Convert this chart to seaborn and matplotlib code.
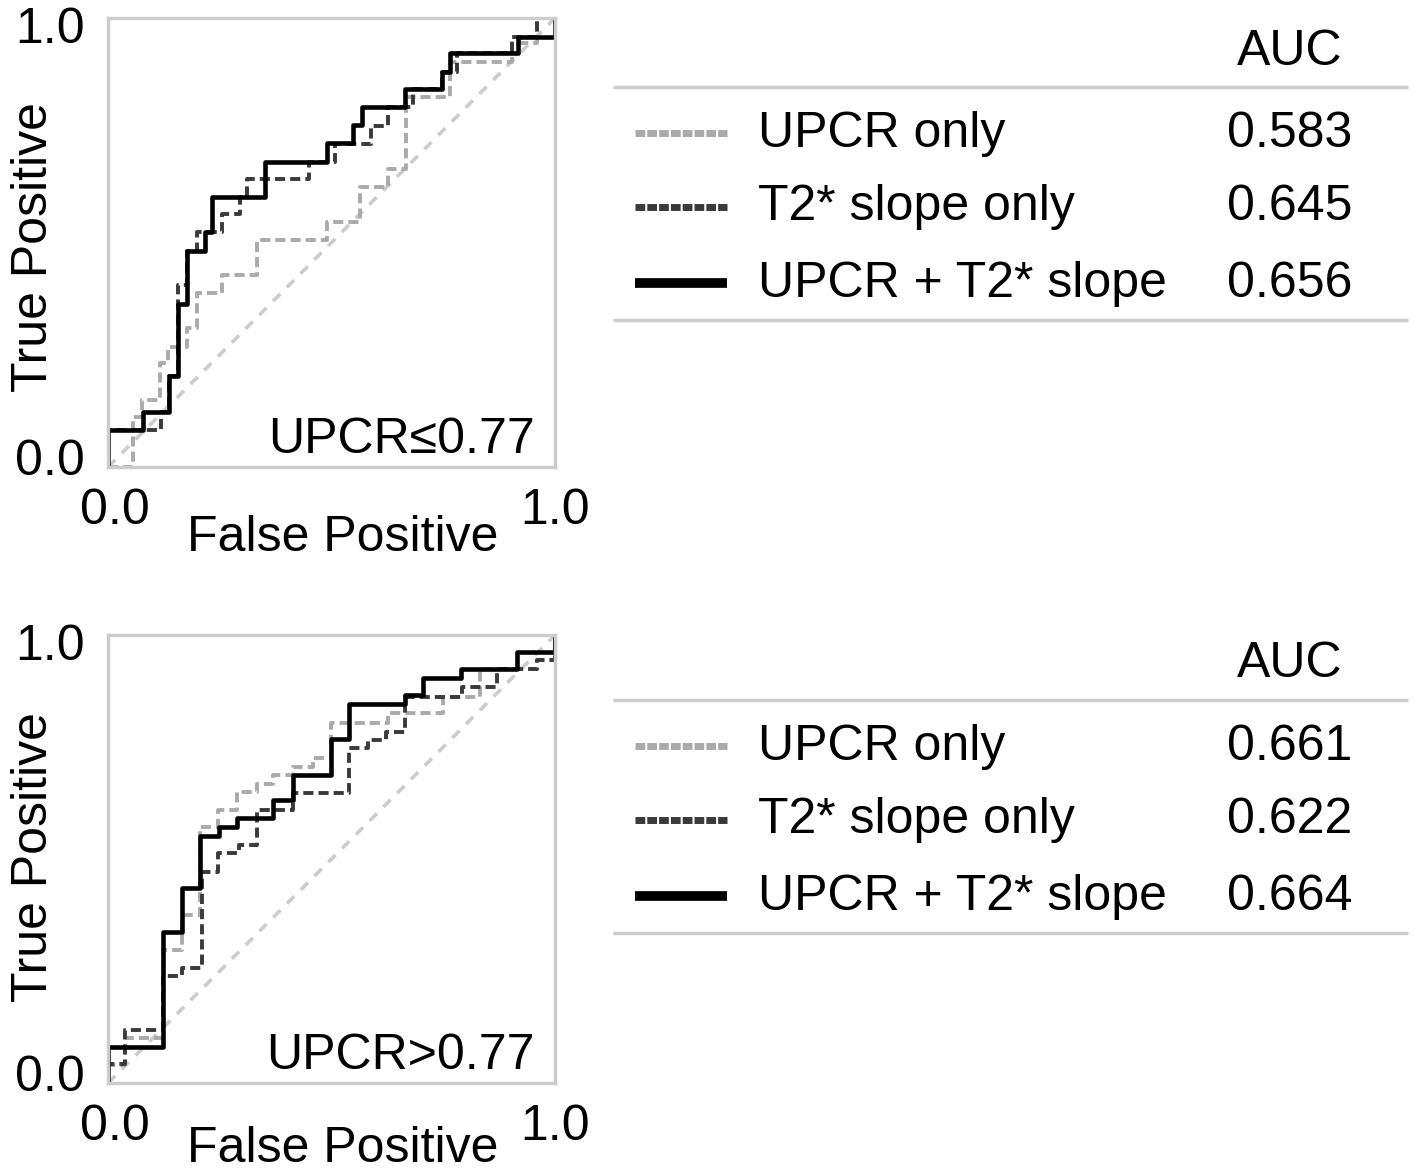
import numpy as np
import pandas as pd
import seaborn as sns
import matplotlib.pyplot as plt
from matplotlib.transforms import ScaledTranslation

sns.set_theme(style="white")
plt.rcParams['font.family'] = ['Liberation Sans', 'DejaVu Sans']
plt.rcParams['axes.edgecolor'] = '#cccccc'
plt.rcParams['axes.linewidth'] = 2.4
plt.rcParams['text.color'] = 'black'
plt.rcParams['axes.labelcolor'] = 'black'
plt.rcParams['xtick.color'] = 'black'
plt.rcParams['ytick.color'] = 'black'

# ROC corner points
top_upcr_fpr = [0, 0.057, 0.057, 0.075, 0.075, 0.116, 0.116, 0.135, 0.135, 0.176, 0.176, 0.198, 0.198,
                0.254, 0.254, 0.333, 0.333, 0.489, 0.489, 0.564, 0.564, 0.627, 0.627, 0.667, 0.667,
                0.764, 0.764, 0.903, 0.903, 0.959, 0.959, 1.0]
top_upcr_tpr = [0, 0, 0.112, 0.112, 0.149, 0.149, 0.231, 0.231, 0.268, 0.268, 0.309, 0.309, 0.387,
                0.387, 0.428, 0.428, 0.506, 0.506, 0.546, 0.546, 0.624, 0.624, 0.663, 0.663, 0.823,
                0.823, 0.903, 0.903, 0.944, 0.944, 1.0, 1.0]
top_t2_fpr = [0, 0, 0.118, 0.118, 0.137, 0.137, 0.157, 0.157, 0.176, 0.176, 0.198, 0.198, 0.254, 0.254,
              0.295, 0.295, 0.312, 0.312, 0.450, 0.450, 0.508, 0.508, 0.588, 0.588, 0.627, 0.627,
              0.683, 0.683, 0.747, 0.747, 0.780, 0.780, 0.903, 0.903, 0.960, 0.960, 1.0]
top_t2_tpr = [0, 0.082, 0.082, 0.122, 0.122, 0.203, 0.203, 0.405, 0.405, 0.481, 0.481, 0.523, 0.523,
              0.563, 0.563, 0.602, 0.602, 0.641, 0.641, 0.680, 0.680, 0.719, 0.719, 0.759, 0.759,
              0.802, 0.802, 0.842, 0.842, 0.880, 0.880, 0.922, 0.922, 0.958, 0.958, 1.0, 1.0]
top_both_fpr = [0, 0, 0.078, 0.078, 0.137, 0.137, 0.157, 0.157, 0.176, 0.176, 0.217, 0.217, 0.233, 0.233,
                0.351, 0.351, 0.490, 0.490, 0.548, 0.548, 0.568, 0.568, 0.664, 0.664, 0.747, 0.747,
                0.765, 0.765, 0.917, 0.917, 1.0, 1.0]
top_both_tpr = [0, 0.082, 0.082, 0.122, 0.122, 0.203, 0.203, 0.363, 0.363, 0.481, 0.481, 0.523, 0.523,
                0.601, 0.601, 0.679, 0.679, 0.721, 0.721, 0.762, 0.762, 0.802, 0.802, 0.842, 0.842,
                0.880, 0.880, 0.922, 0.922, 0.958, 0.958, 1.0]

bot_upcr_fpr = [0, 0, 0.038, 0.038, 0.124, 0.124, 0.165, 0.165, 0.206, 0.206, 0.247, 0.247, 0.288, 0.288,
                0.333, 0.333, 0.370, 0.370, 0.413, 0.413, 0.459, 0.459, 0.498, 0.498, 0.627, 0.627,
                0.750, 0.750, 0.832, 0.832, 0.959, 0.959, 1.0, 1.0]
bot_upcr_tpr = [0, 0.04, 0.04, 0.10, 0.10, 0.297, 0.297, 0.375, 0.375, 0.572, 0.572, 0.609, 0.609, 0.650,
                0.650, 0.667, 0.667, 0.688, 0.688, 0.706, 0.706, 0.726, 0.726, 0.803, 0.803, 0.825,
                0.825, 0.862, 0.862, 0.924, 0.924, 0.944, 0.944, 1.0]
bot_t2_fpr = [0, 0, 0.038, 0.038, 0.124, 0.124, 0.165, 0.165, 0.210, 0.210, 0.247, 0.247, 0.292, 0.292,
              0.333, 0.333, 0.413, 0.413, 0.540, 0.540, 0.582, 0.582, 0.623, 0.623, 0.664, 0.664,
              0.791, 0.791, 0.870, 0.870, 0.959, 0.959, 1.0, 1.0]
bot_t2_tpr = [0, 0.042, 0.042, 0.118, 0.118, 0.239, 0.239, 0.256, 0.256, 0.472, 0.472, 0.513, 0.513,
              0.531, 0.531, 0.609, 0.609, 0.647, 0.647, 0.747, 0.747, 0.766, 0.766, 0.784, 0.784,
              0.862, 0.862, 0.885, 0.885, 0.924, 0.924, 0.944, 0.944, 1.0]
bot_both_fpr = [0, 0, 0.124, 0.124, 0.165, 0.165, 0.206, 0.206, 0.249, 0.249, 0.289, 0.289, 0.370, 0.370,
                0.413, 0.413, 0.498, 0.498, 0.540, 0.540, 0.664, 0.664, 0.705, 0.705, 0.789, 0.789,
                0.914, 0.914, 1.0, 1.0]
bot_both_tpr = [0, 0.080, 0.080, 0.338, 0.338, 0.435, 0.435, 0.552, 0.552, 0.572, 0.572, 0.591, 0.591,
                0.632, 0.632, 0.688, 0.688, 0.768, 0.768, 0.845, 0.845, 0.865, 0.865, 0.905, 0.905,
                0.924, 0.924, 0.963, 0.963, 1.0]

models = ["UPCR only", "T2* slope only", "UPCR + T2* slope"]
top_auc = ["0.583", "0.645", "0.656"]
bot_auc = ["0.661", "0.622", "0.664"]
panel_labels = ["UPCR\u22640.77", "UPCR>0.77"]

colors = ['#aaaaaa', '#3a3a3a', 'black']
styles = [(0, (2.6, 1.3)), (0, (2.6, 1.3)), '-']
widths = [2.8, 2.8, 3.3]
fs = 36

W, H = 1415, 1168
fig = plt.figure(figsize=(W / 100, H / 100), dpi=100)
ax_top = fig.add_axes([108 / W, 1 - 467 / H, 447 / W, 449 / H])
ax_bot = fig.add_axes([108 / W, 1 - 1083 / H, 447 / W, 448 / H])

panels = [
    (ax_top, [(top_upcr_fpr, top_upcr_tpr), (top_t2_fpr, top_t2_tpr), (top_both_fpr, top_both_tpr)],
     panel_labels[0], 0.489, -0.107),
    (ax_bot, [(bot_upcr_fpr, bot_upcr_tpr), (bot_t2_fpr, bot_t2_tpr), (bot_both_fpr, bot_both_tpr)],
     panel_labels[1], 0.504, -0.095),
]

for ax, curves, lab, ylab_y, xlab_y in panels:
    sns.lineplot(x=[0, 1], y=[0, 1], ax=ax, color='#cccccc', linewidth=2.6,
                 linestyle=(0, (2.8, 2.6)), zorder=1)
    for (fx, ty), c, ls, lw in zip(curves, colors, styles, widths):
        df = pd.DataFrame({'fpr': fx, 'tpr': ty})
        sns.lineplot(data=df, x='fpr', y='tpr', sort=False, estimator=None, ax=ax,
                     color=c, linestyle=ls, linewidth=lw, zorder=2)
    ax.set_xlim(0, 1)
    ax.set_ylim(0, 1)
    ax.set_xticks([0, 1])
    ax.set_xticklabels(['0.0', '1.0'])
    ax.set_yticks([0, 1])
    ax.set_yticklabels(['0.0', '1.0'])
    ax.tick_params(axis='x', length=0, pad=15, labelsize=fs)
    ax.tick_params(axis='y', length=0, pad=17, labelsize=fs)
    # nudge the end labels inward a little, as in the original
    xl = ax.get_xticklabels()
    xl[0].set_transform(xl[0].get_transform() + ScaledTranslation(7 / 100, 0, fig.dpi_scale_trans))
    yl = ax.get_yticklabels()
    yl[0].set_transform(yl[0].get_transform() + ScaledTranslation(0, 10 / 100, fig.dpi_scale_trans))
    yl[1].set_transform(yl[1].get_transform() + ScaledTranslation(0, -7 / 100, fig.dpi_scale_trans))
    ax.set_xlabel("False Positive", fontsize=fs)
    ax.set_ylabel("True Positive", fontsize=fs)
    ax.xaxis.set_label_coords(0.525, xlab_y)
    ax.yaxis.set_label_coords(-0.114, ylab_y)
    ax.text(0.955, 0.031, lab, transform=ax.transAxes, ha='right', va='baseline', fontsize=fs)

# AUC tables on the right
tab = fig.add_axes([0, 0, 1, 1], facecolor='none')
tab.set_xlim(0, W)
tab.set_ylim(H, 0)
tab.axis('off')

tables = [
    (top_auc, 65, (87, 320), [147, 220, 297], [133, 207, 283]),
    (bot_auc, 677, (700, 933), [760, 833, 910], [746, 820, 896]),
]
leg_styles = [(0, (1.4, 0.3)), (0, (1.4, 0.3)), '-']
leg_widths = [5, 5, 7]
for aucs, head_y, rules, rows, lines in tables:
    tab.text(1290, head_y, "AUC", ha='center', va='baseline', fontsize=fs)
    for ry in rules:
        tab.plot([613, 1408], [ry, ry], color='#cccccc', linewidth=2.5, solid_capstyle='butt')
    for name, auc, by, ly, c, ls, lw in zip(models, aucs, rows, lines, colors, leg_styles, leg_widths):
        tab.plot([635, 727], [ly, ly], color=c, linestyle=ls, linewidth=lw, solid_capstyle='butt')
        tab.text(758, by, name, ha='left', va='baseline', fontsize=fs)
        tab.text(1290, by, auc, ha='center', va='baseline', fontsize=fs)

fig.savefig("out.png", dpi=100)
